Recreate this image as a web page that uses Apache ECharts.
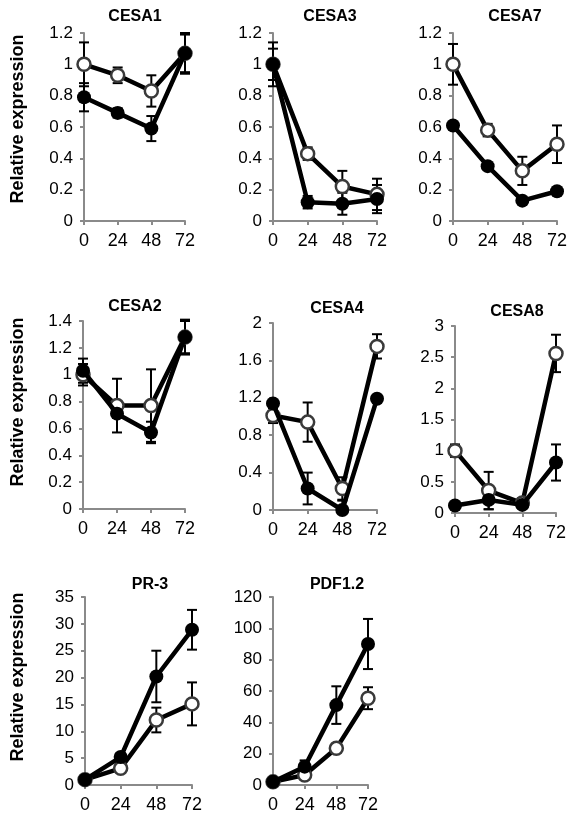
<!DOCTYPE html>
<html>
<head>
<meta charset="utf-8">
<script src="https://cdn.jsdelivr.net/npm/echarts@6/dist/echarts.min.js"></script>
<style>
html,body{margin:0;padding:0;background:#fff;}
#chart{width:579px;height:828px;}
</style>
</head>
<body>
<div id="chart"></div>
<script>
// ---- data ----
const hours = ['0', '24', '48', '72'];
const panelNames = ['CESA1', 'CESA3', 'CESA7', 'CESA2', 'CESA4', 'CESA8', 'PR-3', 'PDF1.2'];

const cesa1Open = [1.00, 0.93, 0.83, 1.07];
const cesa1OpenErr = [0.14, 0.05, 0.10, 0.13];
const cesa1Filled = [0.79, 0.69, 0.59, 1.07];
const cesa1FilledErr = [0.09, 0.03, 0.08, 0.12];

const cesa3Open = [1.00, 0.43, 0.22, 0.17];
const cesa3OpenErr = [0.14, 0.04, 0.10, 0.10];
const cesa3Filled = [1.00, 0.12, 0.11, 0.14];
const cesa3FilledErr = [0.10, 0.04, 0.07, 0.09];

const cesa7Open = [1.00, 0.58, 0.32, 0.49];
const cesa7OpenErr = [0.13, 0.04, 0.09, 0.12];
const cesa7Filled = [0.61, 0.35, 0.13, 0.19];
const cesa7FilledErr = [0.01, 0.01, 0.01, 0.01];

const cesa2Open = [1.00, 0.77, 0.77, 1.28];
const cesa2OpenErr = [0.08, 0.20, 0.27, 0.13];
const cesa2Filled = [1.03, 0.71, 0.57, 1.28];
const cesa2FilledErr = [0.09, 0.03, 0.08, 0.12];

const cesa4Open = [1.01, 0.94, 0.23, 1.75];
const cesa4OpenErr = [0.08, 0.21, 0.12, 0.13];
const cesa4Filled = [1.14, 0.23, 0.00, 1.19];
const cesa4FilledErr = [0.02, 0.17, 0.10, 0.02];

const cesa8Open = [1.00, 0.36, 0.16, 2.56];
const cesa8OpenErr = [0.10, 0.30, 0.08, 0.30];
const cesa8Filled = [0.12, 0.21, 0.13, 0.81];
const cesa8FilledErr = [0.03, 0.15, 0.05, 0.29];

const pr3Open = [1.0, 3.1, 12.1, 15.1];
const pr3OpenErr = [0.3, 0.5, 2.3, 4.0];
const pr3Filled = [1.0, 5.2, 20.2, 28.9];
const pr3FilledErr = [0.3, 0.6, 4.8, 3.7];

const pdfOpen = [2.0, 6.4, 23.4, 55.4];
const pdfOpenErr = [0.5, 2.0, 3.0, 7.0];
const pdfFilled = [2.0, 11.7, 51.0, 90.0];
const pdfFilledErr = [0.5, 4.0, 12.0, 16.0];

const yMaxes = [1.2, 1.2, 1.2, 1.4, 2, 3, 35, 120];
const yIntervals = [0.2, 0.2, 0.2, 0.2, 0.4, 0.5, 5, 20];

const openSets = [cesa1Open, cesa3Open, cesa7Open, cesa2Open, cesa4Open, cesa8Open, pr3Open, pdfOpen];
const openErrs = [cesa1OpenErr, cesa3OpenErr, cesa7OpenErr, cesa2OpenErr, cesa4OpenErr, cesa8OpenErr, pr3OpenErr, pdfOpenErr];
const filledSets = [cesa1Filled, cesa3Filled, cesa7Filled, cesa2Filled, cesa4Filled, cesa8Filled, pr3Filled, pdfFilled];
const filledErrs = [cesa1FilledErr, cesa3FilledErr, cesa7FilledErr, cesa2FilledErr, cesa4FilledErr, cesa8FilledErr, pr3FilledErr, pdfFilledErr];

// ---- layout ----
const grids = [
  {left: 84, top: 33, width: 101, height: 188},
  {left: 273, top: 33, width: 104, height: 188},
  {left: 453, top: 33, width: 104, height: 188},
  {left: 83, top: 321, width: 102, height: 188},
  {left: 273, top: 323, width: 104, height: 187},
  {left: 455, top: 326, width: 101, height: 187},
  {left: 85, top: 597, width: 107, height: 188},
  {left: 273, top: 597, width: 95, height: 188}
];
const titlePos = [[135, 17], [330, 17], [515, 17], [135, 307], [337, 309], [517, 312], [150, 585], [337, 585]];
const yNamePos = [[18, 119], [18, 402], [18, 677]];

const FONT = '"Liberation Sans", Arial, sans-serif';
const AXIS_COLOR = '#8a8a8a';

function errRender(params, api) {
  const x = api.value(0), v = api.value(1), e = api.value(2);
  const hi = v + e;
  let lo = v - e;
  let loCap = true;
  if (lo < 0) { lo = 0; loCap = false; }
  const pTop = api.coord([x, hi]);
  const pBot = api.coord([x, lo]);
  const w = 5;
  const style = {stroke: '#000', lineWidth: 2};
  const children = [
    {type: 'line', shape: {x1: pTop[0], y1: pTop[1], x2: pBot[0], y2: pBot[1]}, style: style},
    {type: 'line', shape: {x1: pTop[0] - w, y1: pTop[1], x2: pTop[0] + w, y2: pTop[1]}, style: style}
  ];
  if (loCap) children.push({type: 'line', shape: {x1: pBot[0] - w, y1: pBot[1], x2: pBot[0] + w, y2: pBot[1]}, style: style});
  return {type: 'group', children: children};
}

const option = {
  animation: false,
  backgroundColor: '#fff',
  grid: [], xAxis: [], yAxis: [], series: [], graphic: []
};

for (let i = 0; i < 8; i++) {
  option.grid.push(grids[i]);
  option.xAxis.push({
    type: 'category', gridIndex: i, data: hours, boundaryGap: false,
    axisLine: {lineStyle: {color: AXIS_COLOR, width: 2}},
    axisTick: {show: true, inside: false, length: 4, lineStyle: {color: AXIS_COLOR, width: 2}},
    axisLabel: {color: '#000', fontSize: 18, fontFamily: FONT, margin: 11, interval: 0},
    splitLine: {show: false}
  });
  option.yAxis.push({
    type: 'value', gridIndex: i, min: 0, max: yMaxes[i], interval: yIntervals[i],
    axisLine: {show: true, lineStyle: {color: AXIS_COLOR, width: 2}},
    axisTick: {show: true, inside: false, length: 4, lineStyle: {color: AXIS_COLOR, width: 2}},
    axisLabel: {color: '#000', fontSize: 17, fontFamily: FONT, margin: 11},
    splitLine: {show: false}
  });
  const errData = [];
  for (let k = 0; k < hours.length; k++) {
    errData.push([k, openSets[i][k], openErrs[i][k]]);
    errData.push([k, filledSets[i][k], filledErrs[i][k]]);
  }
  option.series.push({
    type: 'custom', xAxisIndex: i, yAxisIndex: i, z: 1,
    renderItem: errRender, data: errData, encode: {x: 0, y: 1}
  });
  option.series.push({
    type: 'line', xAxisIndex: i, yAxisIndex: i, z: 2, data: openSets[i],
    symbol: 'circle', symbolSize: 13, showAllSymbol: true,
    lineStyle: {color: '#000', width: 4.5},
    itemStyle: {color: '#fff', borderColor: '#3a3a3a', borderWidth: 2.5}
  });
  option.series.push({
    type: 'line', xAxisIndex: i, yAxisIndex: i, z: 3, data: filledSets[i],
    symbol: 'circle', symbolSize: 14, showAllSymbol: true,
    lineStyle: {color: '#000', width: 4.5},
    itemStyle: {color: '#000', borderColor: '#000', borderWidth: 0}
  });
  option.graphic.push({
    type: 'text', x: titlePos[i][0], y: titlePos[i][1],
    style: {text: panelNames[i], font: 'bold 16px ' + FONT, fill: '#000', textAlign: 'center', textVerticalAlign: 'middle'}
  });
}
for (const p of yNamePos) {
  option.graphic.push({
    type: 'text', x: p[0], y: p[1], rotation: Math.PI / 2,
    style: {text: 'Relative expression', font: 'bold 18px ' + FONT, fill: '#000', textAlign: 'center', textVerticalAlign: 'middle'}
  });
}

const chart = echarts.init(document.getElementById('chart'), null, {renderer: 'canvas'});
chart.setOption(option);
</script>
</body>
</html>
